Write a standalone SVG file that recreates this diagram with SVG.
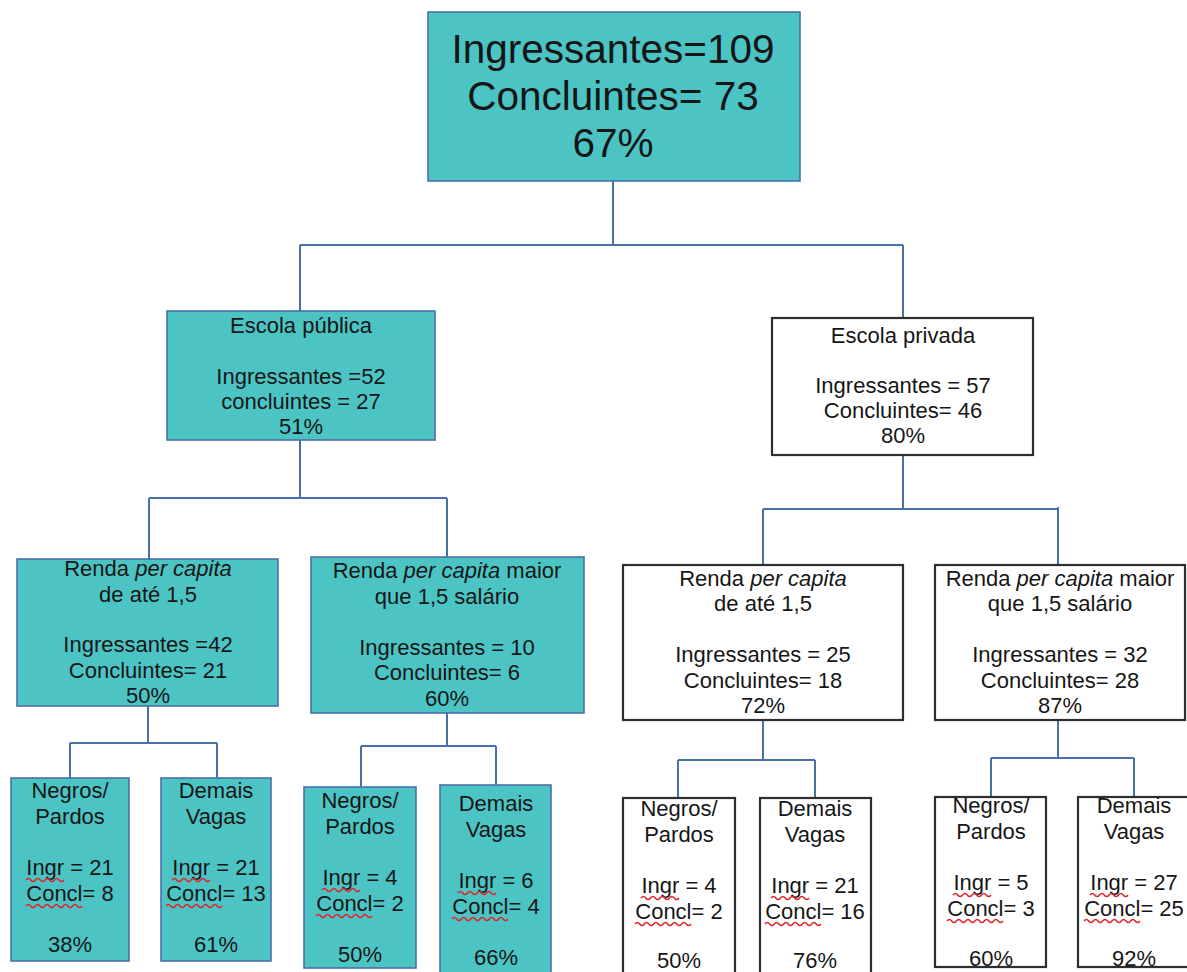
<svg xmlns="http://www.w3.org/2000/svg" xmlns:xlink="http://www.w3.org/1999/xlink" width="1187" height="972" viewBox="0 0 1187 972">
<style>
  .teal { fill: #4cc4c4; stroke: #4a70a8; stroke-width: 1.6; }
  .white { fill: #ffffff; stroke: #2e2e2e; stroke-width: 2.2; }
  .conn { fill: none; stroke: #4a70a8; stroke-width: 2; }
  text { font-family: "Liberation Sans", Arial, sans-serif; fill: #161616; text-anchor: middle; }
  .big { font-size: 40.5px; }
  .t { font-size: 22px; }
  .it { font-style: italic; }
  .wave { fill: none; stroke: #e0262a; stroke-width: 1.5; }
</style>
<defs>
  <path id="wI" d="M0,0 q2.37,-3.2 4.75,0 t4.75,0 t4.75,0 t4.75,0 t4.75,0 t4.75,0 t4.75,0 t4.75,0"/>
  <path id="wC" d="M0,0 q2.33,-3.2 4.66,0 t4.66,0 t4.66,0 t4.66,0 t4.66,0 t4.66,0 t4.66,0 t4.66,0 t4.66,0 t4.66,0 t4.66,0 t4.66,0"/>
</defs>
<rect width="1187" height="972" fill="#ffffff"/>

<g id="connectors">
  <path class="conn" d="M613,181 V245 M300,245 H903 M300,245 V311 M903,245 V318"/>
  <path class="conn" d="M300,440 V498 M149,498 H447 M149,498 V559 M447,498 V557"/>
  <path class="conn" d="M903,455 V508 M763,509 H1058 M763,509 V565 M1058,507 V565"/>
  <path class="conn" d="M148,706 V743 M70,743 H217 M70,743 V778 M217,743 V778"/>
  <path class="conn" d="M447,713 V746 M361,746 H496 M361,746 V787 M496,746 V785"/>
  <path class="conn" d="M763,720 V760 M678,760 H815 M678,760 V798 M815,760 V798"/>
  <path class="conn" d="M1058,720 V758 M991,758 H1134 M991,758 V797 M1134,758 V797"/>
</g>

<g id="root">
  <rect class="teal" x="428" y="12" width="372" height="169"/>
  <text class="big" x="613" y="63">Ingressantes=109</text>
  <text class="big" x="613" y="110">Concluintes= 73</text>
  <text class="big" x="613" y="157">67%</text>
</g>

<g id="escola-publica">
  <rect class="teal" x="167" y="311" width="268" height="129"/>
  <text class="t" x="301" y="333">Escola pública</text>
  <text class="t" x="301" y="384">Ingressantes =52</text>
  <text class="t" x="301" y="409">concluintes = 27</text>
  <text class="t" x="301" y="434">51%</text>
</g>

<g id="escola-privada">
  <rect class="white" x="772" y="318" width="261" height="137"/>
  <text class="t" x="903" y="343">Escola privada</text>
  <text class="t" x="903" y="393">Ingressantes = 57</text>
  <text class="t" x="903" y="418">Concluintes= 46</text>
  <text class="t" x="903" y="443">80%</text>
</g>

<g id="renda-pub-ate">
  <rect class="teal" x="17" y="559" width="261" height="147"/>
  <text class="t" x="148" y="576">Renda <tspan class="it">per capita</tspan></text>
  <text class="t" x="148" y="602">de até 1,5</text>
  <text class="t" x="148" y="652">Ingressantes =42</text>
  <text class="t" x="148" y="678">Concluintes= 21</text>
  <text class="t" x="148" y="703">50%</text>
</g>

<g id="renda-pub-maior">
  <rect class="teal" x="311" y="557" width="273" height="156"/>
  <text class="t" x="447" y="578">Renda <tspan class="it">per capita</tspan> maior</text>
  <text class="t" x="447" y="604">que 1,5 salário</text>
  <text class="t" x="447" y="655">Ingressantes = 10</text>
  <text class="t" x="447" y="680">Concluintes= 6</text>
  <text class="t" x="447" y="706">60%</text>
</g>

<g id="renda-priv-ate">
  <rect class="white" x="623" y="565" width="280" height="155"/>
  <text class="t" x="763" y="586">Renda <tspan class="it">per capita</tspan></text>
  <text class="t" x="763" y="611">de até 1,5</text>
  <text class="t" x="763" y="662">Ingressantes = 25</text>
  <text class="t" x="763" y="688">Concluintes= 18</text>
  <text class="t" x="763" y="713">72%</text>
</g>

<g id="renda-priv-maior">
  <rect class="white" x="935" y="565" width="250" height="155"/>
  <text class="t" x="1060" y="586">Renda <tspan class="it">per capita</tspan> maior</text>
  <text class="t" x="1060" y="611">que 1,5 salário</text>
  <text class="t" x="1060" y="662">Ingressantes = 32</text>
  <text class="t" x="1060" y="688">Concluintes= 28</text>
  <text class="t" x="1060" y="713">87%</text>
</g>

<g id="leaf-pub-ate-negros">
  <rect class="teal" x="11" y="778" width="118" height="183"/>
  <text class="t" x="70" y="798">Negros/</text>
  <text class="t" x="70" y="824">Pardos</text>
  <text class="t" x="70" y="875">Ingr = 21</text>
  <text class="t" x="70" y="901">Concl= 8</text>
  <text class="t" x="70" y="952">38%</text>
  <use class="wave" href="#wI" x="26" y="880"/>
  <use class="wave" href="#wC" x="26" y="906"/>
</g>

<g id="leaf-pub-ate-demais">
  <rect class="teal" x="161" y="778" width="110" height="183"/>
  <text class="t" x="216" y="798">Demais</text>
  <text class="t" x="216" y="824">Vagas</text>
  <text class="t" x="216" y="875">Ingr = 21</text>
  <text class="t" x="216" y="901">Concl= 13</text>
  <text class="t" x="216" y="952">61%</text>
  <use class="wave" href="#wI" x="172" y="880"/>
  <use class="wave" href="#wC" x="166" y="906"/>
</g>

<g id="leaf-pub-maior-negros">
  <rect class="teal" x="304" y="787" width="112" height="181"/>
  <text class="t" x="360" y="808">Negros/</text>
  <text class="t" x="360" y="834">Pardos</text>
  <text class="t" x="360" y="885">Ingr = 4</text>
  <text class="t" x="360" y="911">Concl= 2</text>
  <text class="t" x="360" y="962">50%</text>
  <use class="wave" href="#wI" x="322" y="890"/>
  <use class="wave" href="#wC" x="316" y="916"/>
</g>

<g id="leaf-pub-maior-demais">
  <rect class="teal" x="440" y="785" width="111" height="195"/>
  <text class="t" x="496" y="811">Demais</text>
  <text class="t" x="496" y="837">Vagas</text>
  <text class="t" x="496" y="888">Ingr = 6</text>
  <text class="t" x="496" y="914">Concl= 4</text>
  <text class="t" x="496" y="965">66%</text>
  <use class="wave" href="#wI" x="458" y="893"/>
  <use class="wave" href="#wC" x="452" y="919"/>
</g>

<g id="leaf-priv-ate-negros">
  <rect class="white" x="623" y="798" width="112" height="185"/>
  <text class="t" x="679" y="816">Negros/</text>
  <text class="t" x="679" y="842">Pardos</text>
  <text class="t" x="679" y="893">Ingr = 4</text>
  <text class="t" x="679" y="919">Concl= 2</text>
  <text class="t" x="679" y="968">50%</text>
  <use class="wave" href="#wI" x="641" y="898"/>
  <use class="wave" href="#wC" x="635" y="924"/>
</g>

<g id="leaf-priv-ate-demais">
  <rect class="white" x="760" y="798" width="111" height="185"/>
  <text class="t" x="815" y="816">Demais</text>
  <text class="t" x="815" y="842">Vagas</text>
  <text class="t" x="815" y="893">Ingr = 21</text>
  <text class="t" x="815" y="919">Concl= 16</text>
  <text class="t" x="815" y="968">76%</text>
  <use class="wave" href="#wI" x="771" y="898"/>
  <use class="wave" href="#wC" x="765" y="924"/>
</g>

<g id="leaf-priv-maior-negros">
  <rect class="white" x="935" y="797" width="111" height="170"/>
  <text class="t" x="991" y="813">Negros/</text>
  <text class="t" x="991" y="839">Pardos</text>
  <text class="t" x="991" y="890">Ingr = 5</text>
  <text class="t" x="991" y="916">Concl= 3</text>
  <text class="t" x="991" y="966">60%</text>
  <use class="wave" href="#wI" x="953" y="895"/>
  <use class="wave" href="#wC" x="947" y="921"/>
</g>

<g id="leaf-priv-maior-demais">
  <rect class="white" x="1078" y="797" width="112" height="170"/>
  <text class="t" x="1134" y="813">Demais</text>
  <text class="t" x="1134" y="839">Vagas</text>
  <text class="t" x="1134" y="890">Ingr = 27</text>
  <text class="t" x="1134" y="916">Concl= 25</text>
  <text class="t" x="1134" y="966">92%</text>
  <use class="wave" href="#wI" x="1090" y="895"/>
  <use class="wave" href="#wC" x="1084" y="921"/>
</g>
</svg>
